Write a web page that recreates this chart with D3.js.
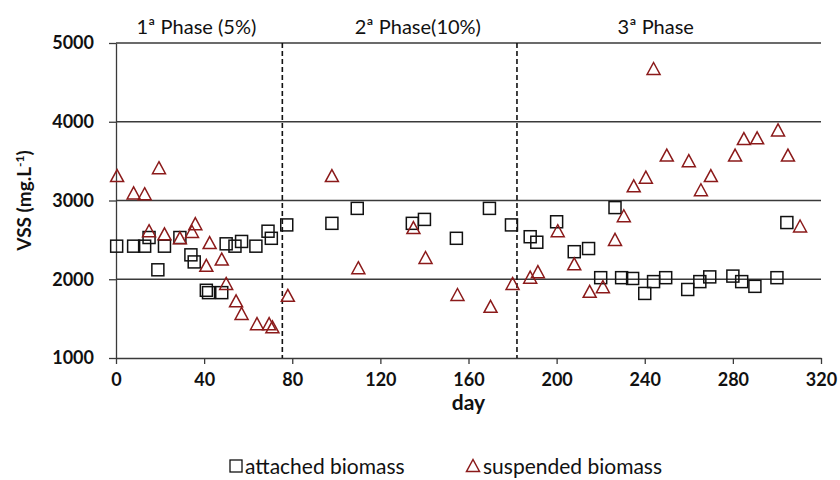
<!DOCTYPE html>
<html><head><meta charset="utf-8">
<script src="https://cdn.jsdelivr.net/npm/d3@7"></script>
<style>body{margin:0;background:#fff}svg{display:block}text{font-family:Lato,"Open Sans",sans-serif}</style>
</head><body>
<svg id="c" width="840" height="480"></svg>
<script>
const attachedDay = [0.3,8,13,15,19,22,29,34,35.5,41,42,48,50,54,57,63.5,69,70.5,77.5,
  98,109.5,134.5,140,154.5,169.5,179.5,
  188,191,200,208,214.5,220,226.5,229.5,234.5,240,244,249.5,259.5,265,269.5,280,284,290,300,304.5];
const attachedVSS = [2420,2420,2420,2530,2120,2420,2530,2310,2220,1860,1830,1830,2450,2420,2480,2420,2610,2520,2690,
  2710,2900,2710,2760,2520,2900,2690,
  2540,2470,2730,2350,2390,2020,2910,2020,2010,1820,1970,2020,1870,1970,2030,2040,1970,1910,2020,2720];
const suspendedDay = [0.5,8,13,19.5,15,22,29,34.5,36,42.5,41,48,50,54.5,57,64,69.5,71,78,
  98,110,135,140.5,155,170,180,
  188,191.5,200.5,208,215,221,226.5,230.5,235,240.5,244,250,260,265.5,270,281,285,291,300.5,305,310.5];
const suspendedVSS = [3310,3090,3080,3410,2610,2570,2520,2600,2700,2460,2170,2250,1940,1720,1560,1430,1430,1390,1790,
  3310,2140,2650,2270,1800,1650,1940,
  2020,2090,2610,2190,1840,1900,2500,2800,3180,3290,4670,3570,3500,3130,3310,3570,3780,3790,3890,3570,2670];
const phaseBounds = [75.5, 182];
const phaseLabels = ["1ª Phase (5%)", "2ª Phase(10%)", "3ª Phase"];
const phaseLabelDay = [36.5, 137, 245];
const xTicks = [0,40,80,120,160,200,240,280,320];
const yTicks = [1000,2000,3000,4000,5000];

const svg = d3.select("#c");
const x = d3.scaleLinear().domain([0,320]).range([116,821]);
const y = d3.scaleLinear().domain([1000,5000]).range([358,43]);
const red = "#8b1a1a";

// gridlines
svg.append("g").selectAll("line").data(yTicks.slice(1)).join("line")
  .attr("x1", x(0)).attr("x2", x(320)).attr("y1", d=>y(d)).attr("y2", d=>y(d))
  .attr("stroke", "#3a3a3a").attr("stroke-width", 1.3);

// axes
const xAxis = d3.axisBottom(x).tickValues(xTicks).tickFormat(d3.format("d")).tickSize(6).tickPadding(9).tickSizeOuter(0);
const gx = svg.append("g").attr("transform", `translate(0,${y(1000)})`).call(xAxis);
const yAxis = d3.axisLeft(y).tickValues(yTicks).tickFormat(d3.format("d")).tickSize(7).tickPadding(15).tickSizeOuter(0);
const gy = svg.append("g").attr("transform", `translate(${x(0)},0)`).call(yAxis);
[gx, gy].forEach(g => {
  g.select(".domain").attr("stroke", "#3a3a3a").attr("stroke-width", 1.3);
  g.selectAll(".tick line").attr("stroke", "#3a3a3a").attr("stroke-width", 1.3);
  g.selectAll(".tick text").attr("fill", "#111").style("font-size", "18px").style("font-weight", "bold")
    .style("font-family", "Lato,sans-serif");
});

// phase boundaries
svg.append("g").selectAll("line").data(phaseBounds).join("line")
  .attr("x1", d=>x(d)).attr("x2", d=>x(d)).attr("y1", y(5000)).attr("y2", y(1000))
  .attr("stroke", "#111").attr("stroke-width", 1.6).attr("stroke-dasharray", "5,3");

// phase labels
svg.append("g").selectAll("text").data(phaseLabels).join("text")
  .attr("x", (d,i)=>x(phaseLabelDay[i])).attr("y", 34).attr("text-anchor", "middle")
  .style("font-size", "20px").attr("fill", "#111").text(d=>d);

// attached (squares)
const s = 12;
svg.append("g").selectAll("rect").data(attachedDay.map((d,i)=>[d, attachedVSS[i]])).join("rect")
  .attr("x", d=>x(d[0]) - s/2).attr("y", d=>y(d[1]) - s/2).attr("width", s).attr("height", s)
  .attr("fill", "none").attr("stroke", "#111").attr("stroke-width", 1.5);

// suspended (triangles)
const tri = (cx, cy) => `M${cx},${cy-6.5}L${cx+6.5},${cy+5.5}L${cx-6.5},${cy+5.5}Z`;
svg.append("g").selectAll("path").data(suspendedDay.map((d,i)=>[d, suspendedVSS[i]])).join("path")
  .attr("d", d=>tri(x(d[0]), y(d[1])))
  .attr("fill", "none").attr("stroke", red).attr("stroke-width", 1.5);

// axis titles
svg.append("text").attr("x", x(160)).attr("y", 410).attr("text-anchor", "middle")
  .style("font-size", "21px").style("font-weight", "bold").attr("fill", "#111").text("day");
const yt = svg.append("text").attr("transform", `translate(31,${y(3000)}) rotate(-90)`).attr("text-anchor", "middle")
  .style("font-size", "19px").style("font-weight", "bold").attr("fill", "#111");
yt.append("tspan").text("VSS (mg.L");
yt.append("tspan").attr("dy", -7).style("font-size", "12px").text("-1");
yt.append("tspan").attr("dy", 7).text(")");

// legend
const lg = svg.append("g");
lg.append("rect").attr("x", 230).attr("y", 460).attr("width", 12).attr("height", 12)
  .attr("fill", "none").attr("stroke", "#111").attr("stroke-width", 1.3);
lg.append("text").attr("x", 245).attr("y", 474).style("font-size", "21px").attr("fill", "#111").text("attached biomass");
lg.append("path").attr("d", tri(473, 466)).attr("fill", "none").attr("stroke", red).attr("stroke-width", 1.5);
lg.append("text").attr("x", 483).attr("y", 474).style("font-size", "21px").attr("fill", "#111").text("suspended biomass");
</script>
</body></html>
